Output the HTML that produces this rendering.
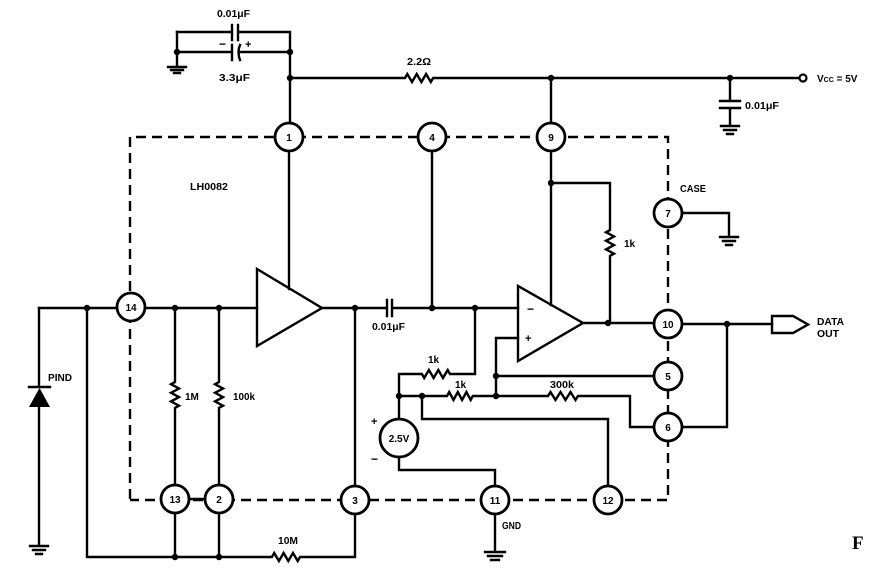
<!DOCTYPE html>
<html><head><meta charset="utf-8"><style>
html,body{margin:0;padding:0;background:#fff;}
svg{display:block;}
text{font-family:"Liberation Sans",sans-serif;font-weight:bold;fill:#000;}
</style></head><body>
<svg width="869" height="575" viewBox="0 0 869 575" xmlns="http://www.w3.org/2000/svg">
<g fill="none" stroke="#000" stroke-width="2.4" stroke-linecap="square">
<!-- dashed outline -->
<g stroke-dasharray="10,6" stroke-linecap="butt">
<path d="M130 499 L130 137 L668 137 L668 500 L130 500"/>
</g>
<!-- top caps -->
<path d="M177 32 L232 32 M232 25 L232 40 M238 25 L238 40 M238 32 L290 32 L290 122"/>
<path d="M177 52 L232 52 M232 45 L232 60 M240 45 Q237 52 240 60 M239 52 L290 52"/>
<path d="M177 32 L177 66 M168 67 L186 67 M171 70 L183 70 M174 73 L180 73"/>
<!-- VCC rail -->
<path d="M290 78 L405 78 l2.3 -4 l4.7 8 l4.7 -8 l4.7 8 l4.7 -8 l4.7 8 l2.3 -4 L799 78"/>
<path d="M730 78 L730 101 M720 101 L740 101 M720 108 L740 108 M730 108 L730 126 M721 126 L739 126 M724 130 L736 130 M727 134 L733 134"/>
<path d="M551 78 L551 123"/>
<!-- pin 1 down to amp1 -->
<path d="M289 151 L289 289"/>
<!-- pin 4 down -->
<path d="M432 151 L432 308"/>
<!-- pin 9 down -->
<path d="M551 151 L551 305"/>
<path d="M551 183 L610 183 L610 230 l-4 2.2 l8 4.3 l-8 4.3 l8 4.3 l-8 4.3 l8 4.3 l-4 2.1 L610 323"/>
<!-- case -->
<path d="M683 213 L729 213 L729 237 M720 237 L738 237 M723 241 L735 241 M726 245 L732 245"/>
<!-- input row -->
<path d="M39 308 L257 308"/>
<path d="M257 269 L257 346 L322 308 Z"/>
<path d="M322 308 L387 308 M387 300 L387 316 M392 300 L392 316 M392 308 L518 308"/>
<!-- opamp 2 -->
<path d="M518 286 L518 361 L583 323 Z"/>
<path d="M583 323 L654 323"/>
<!-- feedback network -->
<path d="M475 308 L475 374 L450 374 l-2.3 -4 l-4.7 8 l-4.7 -8 l-4.7 8 l-4.7 -8 l-4.7 8 l-2.3 -4 L399 374 L399 419"/>
<path d="M399 396 L447 396 l2.2 -4 l4.3 8 l4.3 -8 l4.3 8 l4.3 -8 l4.3 8 l2.1 -4 L548 396 l2.5 -4 l5 8 l5 -8 l5 8 l5 -8 l5 8 l2.5 -4 L630 396 L630 427 L654 427"/>
<path d="M496 338 L518 338 M496 338 L496 396 M496 376 L654 376"/>
<path d="M422 396 L422 419 L608 419 L608 486"/>
<path d="M399 457 L399 470 L495 470 L495 486"/>
<!-- output -->
<path d="M682 324 L772 324 M727 324 L727 427 L682 427"/>
<path d="M772 316 L793 316 L808 324.5 L793 333 L772 333 Z"/>
<!-- pin 3 -->
<path d="M355 308 L355 486 M355 514 L355 557 L300 557 l-2.3 4 l-4.7 -8 l-4.7 8 l-4.7 -8 l-4.7 8 l-4.7 -8 l-2.3 4 L87 557 L87 308"/>
<!-- 1M and 100k -->
<path d="M175 308 L175 382 l-4 2.2 l8 4.3 l-8 4.3 l8 4.3 l-8 4.3 l8 4.3 l-4 2.1 L175 485 M175 513 L175 557"/>
<path d="M219 308 L219 382 l-4 2.2 l8 4.3 l-8 4.3 l8 4.3 l-8 4.3 l8 4.3 l-4 2.1 L219 485 M219 513 L219 557"/>
<path d="M189 499 L205 499"/>
<!-- photodiode -->
<path d="M39 308 L39 387 M29 387 L50 387 M39 407 L39 545 M30 546 L48 546 M33 550 L45 550 M36 554 L42 554"/>
<!-- gnd pin 11 -->
<path d="M495 514 L495 552 M485 552 L505 552 M488 556 L502 556 M491 560 L499 560"/>
</g>
<!-- diode triangle -->
<polygon points="29,407 50,407 39.5,388" fill="#000"/>
<!-- Vcc terminal -->
<circle cx="803" cy="78" r="3.5" fill="#fff" stroke="#000" stroke-width="2.2"/>
<!-- dots -->
<g fill="#000">
<circle cx="177" cy="52" r="3.2"/><circle cx="290" cy="52" r="3.2"/><circle cx="290" cy="78" r="3.2"/>
<circle cx="551" cy="78" r="3.2"/><circle cx="730" cy="78" r="3.2"/><circle cx="551" cy="183" r="3.2"/>
<circle cx="87" cy="308" r="3.2"/><circle cx="175" cy="308" r="3.2"/><circle cx="219" cy="308" r="3.2"/>
<circle cx="355" cy="308" r="3.2"/><circle cx="432" cy="308" r="3.2"/><circle cx="475" cy="308" r="3.2"/>
<circle cx="608" cy="323" r="3.2"/><circle cx="727" cy="324" r="3.2"/>
<circle cx="496" cy="376" r="3.2"/><circle cx="399" cy="396" r="3.2"/><circle cx="422" cy="396" r="3.2"/><circle cx="496" cy="396" r="3.2"/>
<circle cx="175" cy="557" r="3.2"/><circle cx="219" cy="557" r="3.2"/>
</g>
<!-- pin circles -->
<g fill="#fff" stroke="#000" stroke-width="2.8">
<circle cx="289" cy="137" r="14"/><circle cx="432" cy="137" r="14"/><circle cx="551" cy="137" r="14"/>
<circle cx="668" cy="213" r="14"/><circle cx="131" cy="307" r="14"/>
<circle cx="668" cy="324" r="14"/><circle cx="668" cy="376" r="14"/><circle cx="668" cy="427" r="14"/>
<circle cx="175" cy="499" r="14"/><circle cx="219" cy="499" r="14"/><circle cx="355" cy="500" r="14"/>
<circle cx="495" cy="500" r="14"/><circle cx="608" cy="500" r="14"/>
<circle cx="399" cy="438" r="19"/>
</g>
<g font-size="10" text-anchor="middle">
<text x="289" y="141">1</text><text x="432" y="141">4</text><text x="551" y="141">9</text>
<text x="668" y="217">7</text><text x="131" y="311">14</text>
<text x="668" y="328">10</text><text x="668" y="380">5</text><text x="668" y="431">6</text>
<text x="175" y="503">13</text><text x="219" y="503">2</text><text x="355" y="504">3</text>
<text x="495" y="504">11</text><text x="608" y="504">12</text>
<text x="399" y="442">2.5V</text>
</g>
<g font-size="10">
<text x="217" y="17" textLength="33" lengthAdjust="spacingAndGlyphs">0.01μF</text>
<text x="219" y="81" textLength="31" lengthAdjust="spacingAndGlyphs">3.3μF</text>
<text x="219" y="48" font-size="12">−</text>
<text x="245" y="48" font-size="11">+</text>
<text x="407" y="65" textLength="24" lengthAdjust="spacingAndGlyphs">2.2Ω</text>
<text x="817" y="82">V<tspan font-size="7">CC</tspan> = 5V</text>
<text x="745" y="109" textLength="34" lengthAdjust="spacingAndGlyphs">0.01μF</text>
<text x="190" y="190" textLength="38" lengthAdjust="spacingAndGlyphs">LH0082</text>
<text x="680" y="192" textLength="26" lengthAdjust="spacingAndGlyphs">CASE</text>
<text x="624" y="247">1k</text>
<text x="48" y="381" textLength="24" lengthAdjust="spacingAndGlyphs">PIND</text>
<text x="185" y="400">1M</text>
<text x="233" y="400" textLength="22" lengthAdjust="spacingAndGlyphs">100k</text>
<text x="372" y="330" textLength="33" lengthAdjust="spacingAndGlyphs">0.01μF</text>
<text x="428" y="363">1k</text>
<text x="455" y="388">1k</text>
<text x="550" y="388" textLength="24" lengthAdjust="spacingAndGlyphs">300k</text>
<text x="527" y="313" font-size="12">−</text>
<text x="525" y="342" font-size="11">+</text>
<text x="371" y="425" font-size="11">+</text>
<text x="371" y="463" font-size="12">−</text>
<text x="278" y="544" textLength="20" lengthAdjust="spacingAndGlyphs">10M</text>
<text x="502" y="529" textLength="19" lengthAdjust="spacingAndGlyphs">GND</text>
<text x="817" y="325" textLength="27" lengthAdjust="spacingAndGlyphs">DATA</text>
<text x="817" y="337" textLength="22" lengthAdjust="spacingAndGlyphs">OUT</text>
</g>
<text x="852" y="549" font-size="19" style="font-family:'Liberation Serif',serif;font-weight:bold">F</text>
</svg>
</body></html>
